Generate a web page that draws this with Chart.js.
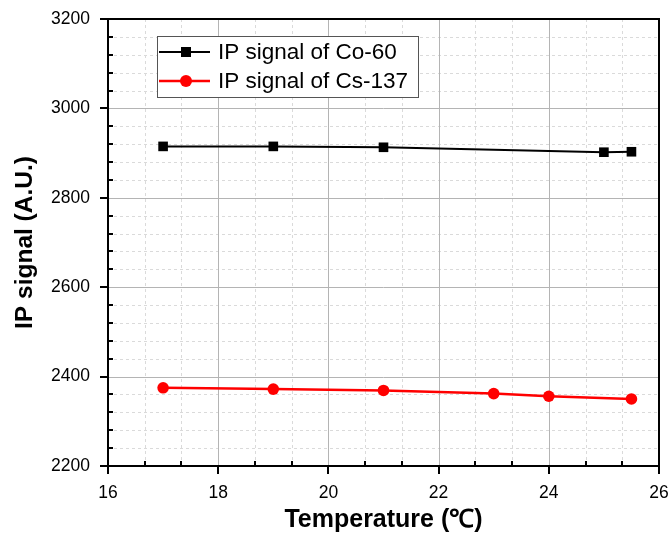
<!DOCTYPE html>
<html>
<head>
<meta charset="utf-8">
<title>IP signal vs temperature</title>
<script src="https://cdn.jsdelivr.net/npm/chart.js@4"></script>
<style>
  html, body { margin: 0; padding: 0; background: #fff; }
  canvas { display: block; }
</style>
</head>
<body>
<canvas id="myChart" width="671" height="534"></canvas>
<script>
// data
const coTemps = [17, 19, 21, 25, 25.5];
const coSignal = [2915, 2915, 2913, 2902, 2903];
const csTemps = [17, 19, 21, 23, 24, 25.5];
const csSignal = [2375, 2372, 2369, 2362, 2356, 2350];

const xTicks = [16, 18, 20, 22, 24, 26];
const yTicks = [2200, 2400, 2600, 2800, 3000, 3200];
const seriesNames = ['IP signal of Co-60', 'IP signal of Cs-137'];

const FONT = 'Liberation Sans, Arial, sans-serif';
const NARROW = 'Liberation Sans Narrow, Arial Narrow, Liberation Sans, sans-serif';

// minor positions between major ticks (3 parts on x, 5 on y)
function minors(ticks, parts) {
    const out = [];
    for (let i = 0; i < ticks.length - 1; i++) {
        const step = (ticks[i + 1] - ticks[i]) / parts;
        for (let k = 1; k < parts; k++) out.push(ticks[i] + step * k);
    }
    return out;
}
const xMinor = minors(xTicks, 3);
const yMinor = minors(yTicks, 5);

function line(ctx, x1, y1, x2, y2) {
    ctx.beginPath();
    ctx.moveTo(x1, y1);
    ctx.lineTo(x2, y2);
    ctx.stroke();
}

const frame = {
    id: 'frame',
    beforeDatasetsDraw(chart) {
        const { ctx, chartArea: a, scales: { x, y } } = chart;
        ctx.save();
        ctx.lineWidth = 1;
        // dashed minor grid
        ctx.strokeStyle = '#dadada';
        ctx.setLineDash([3, 3]);
        xMinor.forEach(v => {
            const px = Math.round(x.getPixelForValue(v)) + 0.5;
            line(ctx, px, a.top, px, a.bottom);
        });
        yMinor.forEach(v => {
            const py = Math.round(y.getPixelForValue(v)) + 0.5;
            line(ctx, a.left, py, a.right, py);
        });
        // solid major grid
        ctx.setLineDash([]);
        ctx.strokeStyle = '#b4b4b4';
        xTicks.forEach(v => {
            const px = Math.round(x.getPixelForValue(v)) + 0.5;
            line(ctx, px, a.top, px, a.bottom);
        });
        yTicks.forEach(v => {
            const py = Math.round(y.getPixelForValue(v)) + 0.5;
            line(ctx, a.left, py, a.right, py);
        });
        ctx.restore();
    },
    afterDatasetsDraw(chart) {
        const { ctx, chartArea: a, scales: { x, y } } = chart;
        ctx.save();
        // ticks: major outward, minor inward
        ctx.strokeStyle = '#000';
        ctx.lineWidth = 2;
        xTicks.forEach(v => {
            const px = Math.round(x.getPixelForValue(v));
            line(ctx, px, a.bottom, px, a.bottom + 8);
        });
        xMinor.forEach(v => {
            const px = Math.round(x.getPixelForValue(v));
            line(ctx, px, a.bottom, px, a.bottom - 5);
        });
        yTicks.forEach(v => {
            const py = Math.round(y.getPixelForValue(v));
            line(ctx, a.left - 8, py, a.left, py);
        });
        yMinor.forEach(v => {
            const py = Math.round(y.getPixelForValue(v));
            line(ctx, a.left, py, a.left + 5, py);
        });
        // frame
        ctx.strokeRect(a.left, a.top, a.right - a.left, a.bottom - a.top);

        // legend box
        const bx = 157, by = 36, bw = 261, bh = 61;
        ctx.fillStyle = '#fff';
        ctx.fillRect(bx, by, bw, bh);
        ctx.lineWidth = 1;
        ctx.strokeStyle = '#555';
        ctx.strokeRect(bx + 0.5, by + 0.5, bw, bh);
        ctx.font = '22.5px ' + FONT;
        ctx.textBaseline = 'middle';
        chart.data.datasets.forEach((ds, i) => {
            const ry = by + 16 + i * 29;
            ctx.strokeStyle = ds.borderColor;
            ctx.lineWidth = ds.borderWidth;
            line(ctx, 159, ry, 210, ry);
            ctx.fillStyle = ds.backgroundColor;
            if (ds.pointStyle === 'rect') {
                ctx.fillRect(181, ry - 5, 10, 10);
            } else {
                ctx.beginPath();
                ctx.arc(186, ry, 6, 0, Math.PI * 2);
                ctx.fill();
            }
            ctx.fillStyle = '#000';
            ctx.fillText(ds.label, 218, ry + 1);
        });
        ctx.restore();
    }
};

const ctx = document.getElementById('myChart').getContext('2d');
const chart = new Chart(ctx, {
    type: 'line',
    data: {
        datasets: [{
            label: seriesNames[0],
            data: coTemps.map((t, i) => ({ x: t, y: coSignal[i] })),
            borderColor: '#000',
            backgroundColor: '#000',
            borderWidth: 2,
            pointStyle: 'rect',
            pointRadius: 6.8,
            pointBorderWidth: 0
        }, {
            label: seriesNames[1],
            data: csTemps.map((t, i) => ({ x: t, y: csSignal[i] })),
            borderColor: '#ff0000',
            backgroundColor: '#ff0000',
            borderWidth: 2.5,
            pointStyle: 'circle',
            pointRadius: 5.8,
            pointBorderWidth: 0
        }]
    },
    options: {
        responsive: false,
        devicePixelRatio: 1,
        animation: false,
        layout: { padding: { top: 19, right: 12, left: 0, bottom: 0 } },
        plugins: { legend: { display: false }, tooltip: { enabled: false } },
        scales: {
            x: {
                type: 'linear',
                min: 16,
                max: 26,
                afterBuildTicks: s => { s.ticks = xTicks.map(v => ({ value: v })); },
                afterFit: s => { s.height = 68; s.paddingLeft = 0; s.paddingRight = 0; },
                grid: { display: false },
                border: { display: false },
                ticks: {
                    color: '#000', padding: 9,
                    font: { family: FONT, size: 17.5 },
                    callback: v => String(v)
                },
                title: {
                    display: true,
                    text: 'Temperature (℃)',
                    color: '#000',
                    font: { family: NARROW, size: 25, weight: 'bold', lineHeight: 1.1 },
                    padding: { top: 0, bottom: 0 }
                }
            },
            y: {
                min: 2200,
                max: 3200,
                afterBuildTicks: s => { s.ticks = yTicks.map(v => ({ value: v })); },
                afterFit: s => { s.width = 108; s.paddingTop = 0; s.paddingBottom = 0; },
                grid: { display: false },
                border: { display: false },
                ticks: {
                    color: '#000', padding: 10,
                    font: { family: FONT, size: 17.5 },
                    callback: v => String(v)
                },
                title: {
                    display: true,
                    text: 'IP signal (A.U.)',
                    color: '#000',
                    font: { family: FONT, size: 24.5, weight: 'bold', lineHeight: 1.1 },
                    padding: { top: 12, bottom: 0 }
                }
            }
        }
    },
    plugins: [frame]
});
</script>
</body>
</html>
